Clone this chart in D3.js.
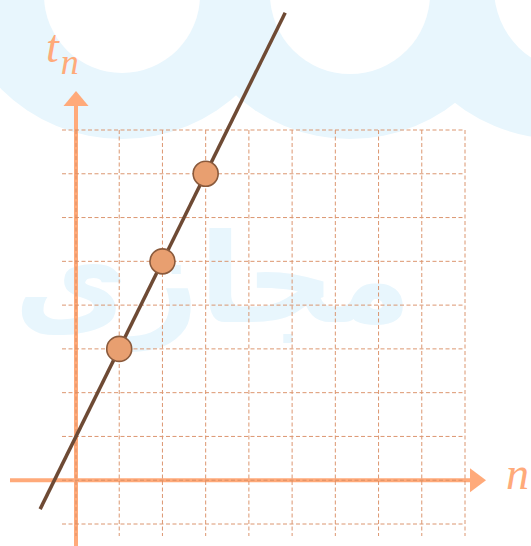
<!DOCTYPE html>
<html>
<head>
<meta charset="utf-8">
<script src="https://cdn.jsdelivr.net/npm/d3@7"></script>
<style>
  body { margin: 0; background: #fff; }
  svg { display: block; }
</style>
</head>
<body>
<svg width="531" height="546"></svg>
<script>
// data
var pointsN = [1, 2, 3];
var pointsT = [3, 5, 7];
var lineN = [-0.83, 4.84];
var lineT = [-0.66, 10.68];
var gridN = [0, 1, 2, 3, 4, 5, 6, 7, 8, 9];
var gridT = [-1, 0, 1, 2, 3, 4, 5, 6, 7, 8];

var svg = d3.select("svg");

var x = d3.scaleLinear().domain([0, 9]).range([76, 465]);
var y = d3.scaleLinear().domain([-1, 8]).range([524, 130]);

var axisColor = "#ffaa7a",
    gridColor = "#d98c62",
    waterBlue = "#e8f6fd";

// watermark background
var bg = svg.append("g");
bg.append("rect").attr("x", 0).attr("y", 0).attr("width", 531).attr("height", 60).attr("fill", waterBlue);
[122, 350, 560].forEach(function(cx) {
    bg.append("circle").attr("cx", cx).attr("cy", -32).attr("r", 171).attr("fill", waterBlue);
});
[[122, -5, 78], [350, -6, 80], [578, -12, 84]].forEach(function(c) {
    bg.append("circle").attr("cx", c[0]).attr("cy", c[1]).attr("r", c[2]).attr("fill", "#fff");
});
bg.append("text")
    .attr("x", 14)
    .attr("y", 322)
    .attr("font-family", "DejaVu Sans")
    .attr("font-weight", "bold")
    .attr("font-size", 124)
    .attr("fill", waterBlue)
    .text("مجازی");

// axes
svg.append("line")
    .attr("x1", 10).attr("x2", 472)
    .attr("y1", y(0)).attr("y2", y(0))
    .attr("stroke", axisColor).attr("stroke-width", 4);
svg.append("path")
    .attr("d", "M470," + (y(0) - 12) + "L486," + y(0) + "L470," + (y(0) + 12) + "Z")
    .attr("fill", axisColor);

svg.append("line")
    .attr("x1", x(0)).attr("x2", x(0))
    .attr("y1", 546).attr("y2", 104)
    .attr("stroke", axisColor).attr("stroke-width", 4);
svg.append("path")
    .attr("d", "M" + (x(0) - 12.5) + ",106L" + x(0) + ",91L" + (x(0) + 12.5) + ",106Z")
    .attr("fill", axisColor);

// grid
var grid = svg.append("g")
    .attr("stroke", gridColor)
    .attr("stroke-width", 1)
    .attr("stroke-dasharray", "4,2.5")
    .attr("opacity", 0.9);

grid.selectAll(".v")
    .data(gridN)
    .enter().append("line")
    .attr("class", "v")
    .attr("x1", function(d) { return x(d); })
    .attr("x2", function(d) { return x(d); })
    .attr("y1", y(8))
    .attr("y2", 536);

grid.selectAll(".h")
    .data(gridT)
    .enter().append("line")
    .attr("class", "h")
    .attr("x1", 62)
    .attr("x2", x(9))
    .attr("y1", function(d) { return y(d); })
    .attr("y2", function(d) { return y(d); });

// labels
var tl = svg.append("text")
    .attr("x", 46)
    .attr("y", 62)
    .attr("font-family", "Liberation Serif")
    .attr("font-style", "italic")
    .attr("font-size", 46)
    .attr("fill", axisColor);
tl.append("tspan").text("t");
tl.append("tspan").attr("font-size", 36).attr("dy", 12).attr("dx", 2).text("n");

svg.append("text")
    .attr("x", 506)
    .attr("y", 489)
    .attr("font-family", "Liberation Serif")
    .attr("font-style", "italic")
    .attr("font-size", 46)
    .attr("fill", axisColor)
    .text("n");

// fitted line
var line = d3.line()
    .x(function(d) { return x(d[0]); })
    .y(function(d) { return y(d[1]); });

svg.append("path")
    .datum(d3.zip(lineN, lineT))
    .attr("d", line)
    .attr("fill", "none")
    .attr("stroke", "#6e4a34")
    .attr("stroke-width", 3.5);

// points
svg.selectAll(".pt")
    .data(d3.zip(pointsN, pointsT))
    .enter().append("circle")
    .attr("class", "pt")
    .attr("cx", function(d) { return x(d[0]); })
    .attr("cy", function(d) { return y(d[1]); })
    .attr("r", 12.5)
    .attr("fill", "#e89f70")
    .attr("stroke", "#8a5a3c")
    .attr("stroke-width", 1.6);
</script>
</body>
</html>
